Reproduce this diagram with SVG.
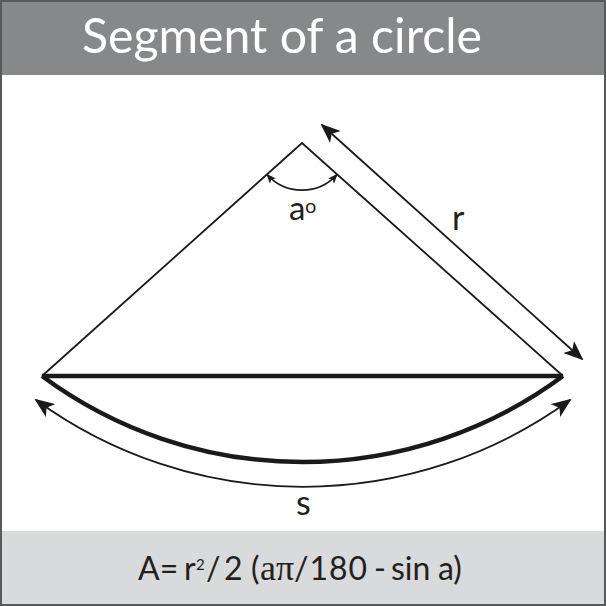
<svg xmlns="http://www.w3.org/2000/svg" width="606" height="606" viewBox="0 0 606 606">
<style>
.thin{fill:none;stroke:#1a1a1a;stroke-width:1.8}
.thick{fill:none;stroke:#1a1a1a;stroke-width:4.5}
.lbl{font-family:Lato,"Liberation Sans",sans-serif;fill:#231f20}
.f{font-family:Lato,"Liberation Sans",sans-serif;font-size:32px;fill:#231f20}
</style>
<defs>
<marker id="big" viewBox="0 0 20 16" refX="18" refY="8" markerWidth="20" markerHeight="16" markerUnits="userSpaceOnUse" orient="auto-start-reverse">
<path d="M0,0 L20,8 L0,16 L5,8 z" fill="#1a1a1a"/>
</marker>
<marker id="small" viewBox="0 0 10 8" refX="9" refY="4" markerWidth="10" markerHeight="8" markerUnits="userSpaceOnUse" orient="auto-start-reverse">
<path d="M0,0 L10,4 L0,8 L2.5,4 z" fill="#1a1a1a"/>
</marker>
</defs>
<rect x="0" y="0" width="606" height="606" fill="#ffffff"/>
<g id="header">
<rect x="0" y="0" width="606" height="75" fill="#87888a"/>
<text x="82" y="53" font-family="Lato,'Liberation Sans',sans-serif" font-size="48" fill="#ffffff" textLength="400" lengthAdjust="spacingAndGlyphs">Segment of a circle</text>
</g>
<g id="footer">
<rect x="0" y="531" width="606" height="75" fill="#d9dadc"/>
<text class="f" y="580"><tspan x="138">A=</tspan><tspan x="184">r</tspan><tspan x="196" y="570" font-size="15">2</tspan><tspan x="206" y="580">/</tspan><tspan x="224">2</tspan><tspan x="251">(</tspan><tspan x="260" font-family="'Liberation Serif',serif" font-size="36">aπ</tspan><tspan x="294" letter-spacing="1">/180</tspan><tspan x="374">-</tspan><tspan x="391">sin</tspan><tspan x="438">a)</tspan></text>
</g>
<g id="shape">
<path class="thin" d="M42,376 L302,143 L563,376"/>
<path class="thick" d="M42,376 L563,376"/>
<path class="thick" d="M42,376 A437.5,437.5 0 0 0 563,376"/>
</g>
<g id="connectors">
<path class="thin" d="M322,125 L582,359" marker-start="url(#big)" marker-end="url(#big)"/>
<path class="thin" d="M36,400 A454,454 0 0 0 570,400" marker-start="url(#big)" marker-end="url(#big)"/>
<path class="thin" stroke-width="1.3" d="M267,174.5 A47,47 0 0 0 337,174.5" marker-start="url(#small)" marker-end="url(#small)"/>
</g>
<g id="labels">
<text class="lbl" x="289" y="220" font-size="33">a</text>
<text class="lbl" x="305" y="213" font-size="20">o</text>
<text class="lbl" x="452" y="230" font-size="34">r</text>
<text class="lbl" x="296" y="515" font-size="34">s</text>
</g>
<rect x="1" y="1" width="604" height="604" fill="none" stroke="#58595b" stroke-width="2"/>
</svg>
